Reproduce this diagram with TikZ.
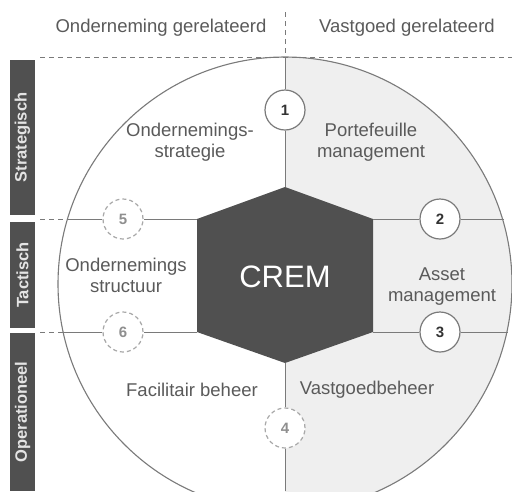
\documentclass[tikz,border=0pt]{standalone}
\usepackage{fontspec}
\setmainfont{Liberation Sans}
\definecolor{hexgray}{HTML}{505050}
\definecolor{lightfill}{HTML}{EFEFEF}
\definecolor{linegray}{HTML}{7A7A7A}
\definecolor{txtgray}{HTML}{5A5A5A}
\definecolor{dashgray}{HTML}{A8A8A8}
\definecolor{numgray}{HTML}{333333}
\definecolor{sidetext}{HTML}{E4E4E4}
\begin{document}
\begin{tikzpicture}[x=1pt,y=-1pt,
  txt/.style={text=txtgray, font=\fontsize{18.5}{21}\selectfont, align=center, inner sep=0pt},
  num/.style={circle, draw=linegray, line width=1.2pt, fill=white, minimum size=40pt, inner sep=0pt, font=\fontsize{15}{15}\selectfont\bfseries, text=numgray},
  dnum/.style={num, draw=dashgray, dash pattern=on 4pt off 3pt, text=dashgray!85!black},
  conn/.style={draw=linegray, line width=1pt},
  guide/.style={draw=linegray, line width=1pt, dash pattern=on 5pt off 4pt},
  side/.style={fill=hexgray, rotate=90, minimum height=25pt, inner sep=0pt, text=sidetext, font=\fontsize{16.5}{16.5}\selectfont\bfseries}
]
\useasboundingbox (0,0) rectangle (512,491);
\fill[white] (0,0) rectangle (512,491);
% half-disc fill
\coordinate (C) at (285,284);
\begin{scope}
\clip (285,0) rectangle (600,600);
\fill[lightfill] (C) circle[radius=227pt];
\end{scope}
\draw[linegray, line width=1.1pt] (C) circle[radius=227pt];

% guide dashed lines
\coordinate (G1) at (40,57);
\coordinate (G2) at (512,57);
\coordinate (V1) at (285,12);
\coordinate (Ctop) at (285,57);
\coordinate (Cbot) at (285,491);
\draw[guide] (G1) -- (G2);
\draw[guide] (V1) -- (Ctop);

% headers
\node[txt] (h1) at (161,28) {Onderneming gerelateerd};
\node[txt] (h2) at (407,28) {Vastgoed gerelateerd};

% sidebar
\node[side, minimum width=155pt] (s1) at (22.5,137.5) {Strategisch};
\node[side, minimum width=106pt] (s2) at (22.5,275) {Tactisch};
\node[side, minimum width=158pt] (s3) at (22.5,412) {Operationeel};

% hexagon
\coordinate (HT) at (285,187);
\coordinate (HUR) at (373,219);
\coordinate (HLR) at (373,332);
\coordinate (HB) at (285,363);
\coordinate (HLL) at (197,332);
\coordinate (HUL) at (197,219);
\fill[hexgray] (HT) -- (HUR) -- (HLR) -- (HB) -- (HLL) -- (HUL) -- cycle;
\node[text=white, font=\fontsize{31}{31}\selectfont, inner sep=0pt] (crem) at (285,277) {CREM};

% circle crossing points
\coordinate (LU) at (66.5,219);
\coordinate (LL) at (62,332);
\coordinate (RU) at (503.5,219);
\coordinate (RL) at (508,332);
\coordinate (DU) at (40,219);
\coordinate (DL) at (40,332);

% number circles
\node[num] (n1) at (285,110) {1};
\node[num] (n2) at (440,219) {2};
\node[num] (n3) at (440,332) {3};
\node[dnum] (n4) at (285,428) {4};
\node[dnum] (n5) at (123,219) {5};
\node[dnum] (n6) at (123,332) {6};

% connectors
\draw[conn] (Ctop) -- (n1);
\draw[conn] (n1) -- (HT);
\draw[conn] (HUR) -- (n2);
\draw[conn] (n2) -- (RU);
\draw[conn] (HLR) -- (n3);
\draw[conn] (n3) -- (RL);
\draw[conn] (HB) -- (n4);
\draw[conn] (n4) -- (Cbot);
\draw[conn] (HUL) -- (n5);
\draw[conn] (n5) -- (LU);
\draw[conn] (HLL) -- (n6);
\draw[conn] (n6) -- (LL);
\draw[guide] (DU) -- (LU);
\draw[guide] (DL) -- (LL);

% labels
\node[txt] (t1) at (190,142) {Ondernemings-\\strategie};
\node[txt] (t2) at (371,142) {Portefeuille\\management};
\node[txt] (t3) at (126,275) {Ondernemings\\structuur};
\node[txt] (t4) at (442,287) {Asset\\management};
\node[txt] (t5) at (192,390) {Facilitair beheer};
\node[txt] (t6) at (367,390) {Vastgoedbeheer};
\end{tikzpicture}
\end{document}
